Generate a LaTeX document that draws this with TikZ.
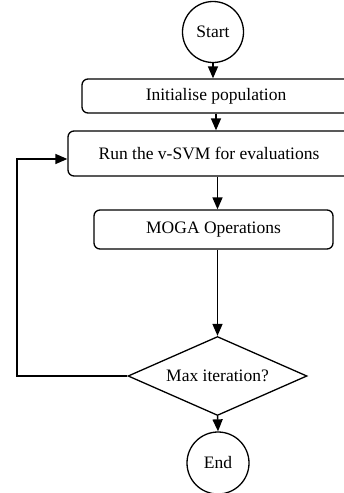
\documentclass[tikz,border=0pt]{standalone}
\usepackage{fontspec}
\setmainfont{Liberation Serif}
\usetikzlibrary{arrows.meta,shapes.geometric}
\begin{document}
\begin{tikzpicture}[x=1pt,y=-1pt,
  every node/.style={font=\fontsize{17.5}{20}\selectfont},
  conn/.style={line width=1.5pt,-{Triangle[width=10pt,length=12pt]}},
  proc/.style={draw,line width=1.3pt,rounded corners=6pt,inner sep=0pt},
  term/.style={draw,circle,line width=1.3pt,inner sep=0pt},
  dec/.style={draw,diamond,line width=1.3pt,inner sep=0pt,aspect=2.27}]
\useasboundingbox (0,0) rectangle (344,493);
\clip (0,0) rectangle (344,493);
\node[term,minimum size=61pt] (start) at (213,32) {Start};
\node[proc,minimum width=268pt,minimum height=34pt] (init) at (216,96) {Initialise population};
\node[proc,minimum width=282pt,minimum height=45pt] (run) at (209,153.5) {Run the v-SVM for evaluations};
\node[proc,minimum width=239pt,minimum height=39pt] (moga) at (213.5,229.5) {MOGA Operations};
\node[dec,minimum width=179pt,minimum height=79pt] (dia) at (217.5,376) {Max iteration?};
\node[term,minimum size=62pt] (end) at (218,463) {End};
\coordinate (lp) at (17,376);
\draw[conn] (start.south) -- (start.south |- init.north);
\draw[conn] (init.south) -- (init.south |- run.north);
\draw[conn] (run.south -| dia.north) -- (dia.north |- moga.north);
\draw[conn] (moga.south -| dia.north) -- (dia.north);
\draw[conn] (dia.south) -- (end.north);
\draw[conn] (dia.west) -- (lp) |- ([yshift=-5.5pt]run.west);
\end{tikzpicture}
\end{document}
